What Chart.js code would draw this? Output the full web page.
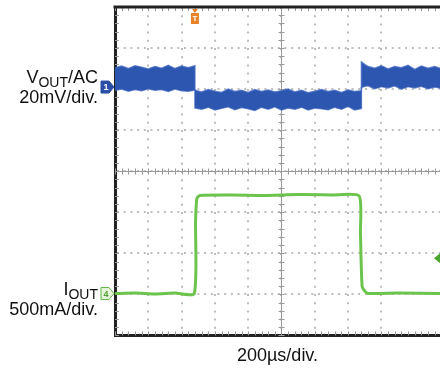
<!DOCTYPE html>
<html>
<head>
<meta charset="utf-8">
<script src="https://cdn.jsdelivr.net/npm/chart.js@4/dist/chart.umd.min.js"></script>
<style>
html, body { margin: 0; padding: 0; background: #fff; }
#wrap { position: relative; width: 440px; height: 370px; overflow: hidden; }
#scope { position: absolute; left: 0; top: 0; }
.lbl { position: absolute; right: 342px; font-family: "Liberation Sans", Arial, sans-serif; font-size: 18px;
       line-height: 18px; color: #111; white-space: nowrap; text-align: right; }
.lbl .sub { font-size: 14px; position: relative; top: 4px; }
</style>
</head>
<body>
<div id="wrap">
  <canvas id="scope" width="440" height="370"></canvas>
  <div class="lbl" style="top:68px">V<span class="sub">OUT</span>/AC</div>
  <div class="lbl" style="top:88px">20mV/div.</div>
  <div class="lbl" style="top:280px">I<span class="sub">OUT</span></div>
  <div class="lbl" style="top:300px">500mA/div.</div>
</div>
<script>
// time in us (200us/div), trace levels in screen divisions (centre = 0)
const timeMax = 1952;

// VOUT (AC) noise band, upper and lower edge
const blueT = [0, 40, 80, 120, 160, 200, 240, 280, 320, 360, 400, 440, 480,
  480, 520, 560, 600, 640, 680, 720, 760, 800, 840, 880, 920, 960, 1000, 1040, 1080, 1120, 1160,
  1200, 1240, 1280, 1320, 1360, 1400, 1440, 1480,
  1480, 1500, 1520, 1560, 1600, 1640, 1680, 1720, 1760, 1800, 1840, 1880, 1920, 1960];
const blueTop = [2.52, 2.56, 2.50, 2.57, 2.53, 2.49, 2.55, 2.51, 2.58, 2.50, 2.56, 2.52, 2.57,
  1.97, 1.93, 1.99, 1.95, 1.92, 2.00, 1.94, 1.97, 1.92, 1.99, 1.94, 1.98, 1.93, 1.96, 2.00, 1.93,
  1.97, 1.91, 1.95, 1.99, 1.94, 1.97, 1.92, 1.98, 1.94, 1.96,
  2.66, 2.60, 2.55, 2.51, 2.57, 2.49, 2.55, 2.52, 2.58, 2.48, 2.56, 2.51, 2.55, 2.50];
const blueBot = [1.97, 2.00, 1.95, 1.99, 1.96, 2.01, 1.97, 1.99, 1.94, 2.00, 1.96, 1.95, 1.98,
  1.54, 1.51, 1.56, 1.49, 1.53, 1.57, 1.50, 1.55, 1.52, 1.48, 1.56, 1.51, 1.57, 1.49, 1.54, 1.51,
  1.56, 1.49, 1.54, 1.52, 1.50, 1.56, 1.51, 1.58, 1.49, 1.53,
  2.04, 2.07, 2.08, 2.01, 2.06, 2.03, 2.08, 2.00, 2.06, 2.03, 2.07, 2.01, 2.05, 2.02];

// IOUT load step
const greenT = [0, 120, 240, 360, 476, 484, 492, 510, 700, 900, 1100, 1300, 1466, 1474, 1484, 1500, 1520, 1700, 1960];
const greenY = [-2.98, -2.97, -2.99, -2.97, -2.98, -1.20, -0.66, -0.59, -0.58, -0.59, -0.57, -0.58, -0.60,
  -1.50, -2.80, -2.92, -2.98, -2.97, -2.98];

// channel markers
const blueMark = 2.05;
const greenMark = -2.98;
const trigTime = 480;
const rightArrow = -2.12;

function pts(t, v) {
  return t.map(function (x, i) { return { x: x, y: v[i] }; });
}

function tag(ctx, px, py, fill, stroke, txt, txtColor) {
  ctx.beginPath();
  ctx.moveTo(px - 13, py - 6);
  ctx.lineTo(px - 5, py - 6);
  ctx.lineTo(px, py);
  ctx.lineTo(px - 5, py + 6);
  ctx.lineTo(px - 13, py + 6);
  ctx.closePath();
  ctx.fillStyle = fill;
  ctx.fill();
  ctx.strokeStyle = stroke;
  ctx.lineWidth = 1;
  ctx.stroke();
  ctx.fillStyle = txtColor;
  ctx.font = 'bold 9px "Liberation Sans", Arial, sans-serif';
  ctx.textAlign = 'center';
  ctx.textBaseline = 'middle';
  ctx.fillText(txt, px - 8, py + 0.5);
}

// grid dots only on whole divisions, not on the clipped right edge
function gridColor(c) {
  return c.tick && Math.abs(c.tick.value % 200) < 0.01 ? '#bdbdbd' : 'rgba(0,0,0,0)';
}

const scopeDecor = {
  id: 'scopeDecor',
  beforeDatasetsDraw(chart) {
    const ctx = chart.ctx, a = chart.chartArea, x = chart.scales.x, y = chart.scales.y;
    const cx = Math.round(x.getPixelForValue(1000)) + 0.5, cy = Math.round(y.getPixelForValue(0)) + 0.5;
    ctx.save();
    ctx.strokeStyle = '#9a9a9a';
    ctx.lineWidth = 1;
    ctx.beginPath();
    ctx.moveTo(cx, a.top); ctx.lineTo(cx, a.bottom);
    ctx.moveTo(a.left, cy); ctx.lineTo(a.right, cy);
    for (let v = -4; v <= 4.001; v += 0.2) {
      const py = Math.round(y.getPixelForValue(v)) + 0.5;
      ctx.moveTo(cx - 3, py); ctx.lineTo(cx + 3, py);
      ctx.moveTo(a.left, py); ctx.lineTo(a.left + 4, py);
    }
    for (let t = 0; t <= timeMax; t += 40) {
      const px = Math.round(x.getPixelForValue(t)) + 0.5;
      ctx.moveTo(px, cy - 3); ctx.lineTo(px, cy + 3);
      ctx.moveTo(px, a.top); ctx.lineTo(px, a.top + 4);
      ctx.moveTo(px, a.bottom); ctx.lineTo(px, a.bottom - 4);
    }
    ctx.stroke();
    ctx.strokeStyle = '#222';
    ctx.lineWidth = 3;
    ctx.beginPath();
    ctx.moveTo(a.left - 1.5, a.top);
    ctx.lineTo(a.right + 2, a.top);
    ctx.stroke();
    ctx.restore();
  },
  afterDraw(chart) {
    const ctx = chart.ctx, a = chart.chartArea, x = chart.scales.x, y = chart.scales.y;
    ctx.save();
    tag(ctx, a.left - 1, y.getPixelForValue(blueMark), '#2b4fa6', '#2b4fa6', '1', '#fff');
    tag(ctx, a.left - 1, y.getPixelForValue(greenMark), '#e6f4dc', '#62b545', '4', '#4e9f32');

    // trigger position
    const tx = x.getPixelForValue(trigTime);
    ctx.fillStyle = '#e8832a';
    ctx.beginPath();
    ctx.moveTo(tx - 3, a.top + 2);
    ctx.lineTo(tx + 3, a.top + 2);
    ctx.lineTo(tx, a.top + 6);
    ctx.closePath();
    ctx.fill();
    ctx.fillRect(tx - 4, a.top + 6, 8, 11);
    ctx.fillStyle = '#fff';
    ctx.font = 'bold 8px "Liberation Sans", Arial, sans-serif';
    ctx.textAlign = 'center';
    ctx.textBaseline = 'middle';
    ctx.fillText('T', tx, a.top + 12);

    // off-screen marker arrow
    const ay = y.getPixelForValue(rightArrow);
    ctx.fillStyle = '#4ea82f';
    ctx.beginPath();
    ctx.moveTo(a.right - 6, ay);
    ctx.lineTo(a.right, ay - 5);
    ctx.lineTo(a.right, ay + 5);
    ctx.closePath();
    ctx.fill();
    ctx.restore();
  }
};

new Chart(document.getElementById('scope').getContext('2d'), {
  type: 'line',
  data: {
    datasets: [
      { data: pts(blueT, blueTop), borderColor: 'rgba(60,100,192,0.75)', borderWidth: 1.5, fill: '+1',
        backgroundColor: '#2d56b0', pointRadius: 0, tension: 0 },
      { data: pts(blueT, blueBot), borderColor: 'rgba(60,100,192,0.75)', borderWidth: 1.5, fill: false,
        pointRadius: 0, tension: 0 },
      { data: pts(greenT, greenY), borderColor: '#6cc44c', borderWidth: 3, fill: false,
        pointRadius: 0, tension: 0.2 }
    ]
  },
  options: {
    responsive: false,
    animation: false,
    layout: { padding: { left: 115, top: 7, right: 0, bottom: 0 } },
    plugins: { legend: { display: false }, tooltip: { enabled: false } },
    scales: {
      x: {
        type: 'linear', min: 0, max: timeMax,
        ticks: { display: false, stepSize: 200 },
        grid: { color: gridColor, lineWidth: 2, drawTicks: false },
        border: { display: true, color: '#222', width: 3, dash: [2, 6.2] },
        title: { display: true, text: '200µs/div.', color: '#111',
          font: { family: '"Liberation Sans", Arial, sans-serif', size: 18 },
          padding: { top: 10, bottom: 3 } }
      },
      y: {
        min: -4, max: 4,
        ticks: { display: false, stepSize: 1 },
        grid: { color: '#bdbdbd', lineWidth: 2, drawTicks: false },
        border: { display: true, color: '#222', width: 3, dash: [2, 4.7] }
      }
    }
  },
  plugins: [scopeDecor]
});
</script>
</body>
</html>
